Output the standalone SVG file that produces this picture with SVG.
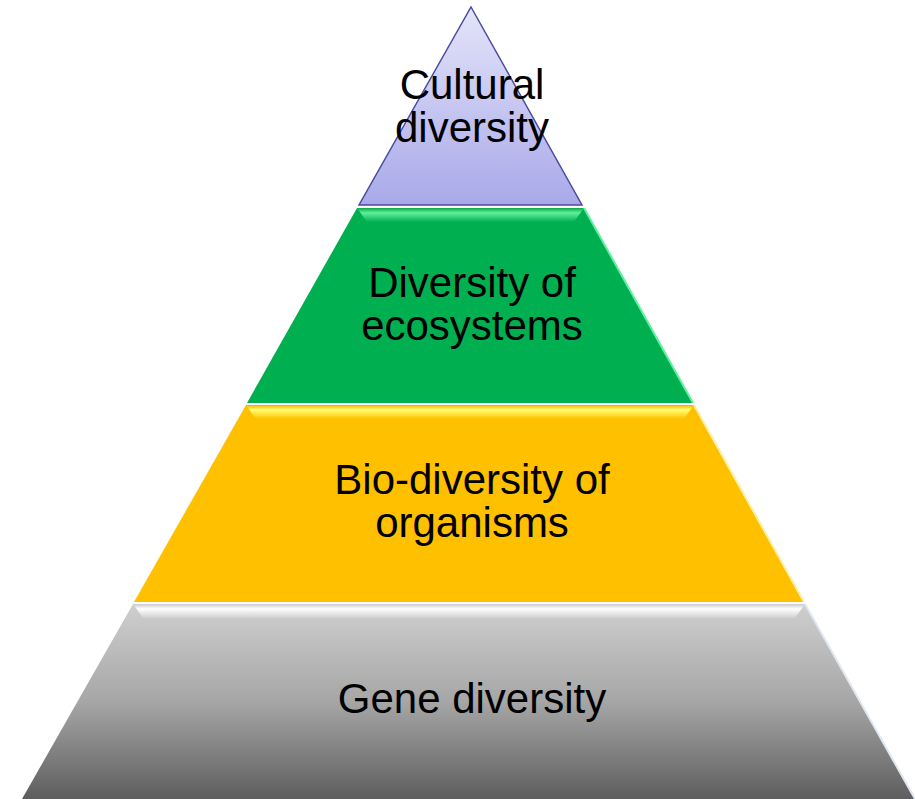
<svg xmlns="http://www.w3.org/2000/svg" width="915" height="799" viewBox="0 0 915 799">
<defs>
<linearGradient id="gPurple" x1="0" y1="0" x2="0" y2="1">
<stop offset="0" stop-color="#e4e4fa"/>
<stop offset="1" stop-color="#a9a9e9"/>
</linearGradient>
<linearGradient id="gGray" x1="0" y1="0" x2="0" y2="1">
<stop offset="0" stop-color="#cfcfcf"/>
<stop offset="0.5" stop-color="#a6a6a6"/>
<stop offset="1" stop-color="#5e5e5e"/>
</linearGradient>
<linearGradient id="hGreen" x1="0" y1="0" x2="0" y2="1">
<stop offset="0" stop-color="#0aa84a"/>
<stop offset="0.35" stop-color="#5ff09a"/>
<stop offset="1" stop-color="#00b050"/>
</linearGradient>
<linearGradient id="hYellow" x1="0" y1="0" x2="0" y2="1">
<stop offset="0" stop-color="#f0b000"/>
<stop offset="0.35" stop-color="#ffff70"/>
<stop offset="1" stop-color="#ffc000"/>
</linearGradient>
<linearGradient id="hGray" x1="0" y1="0" x2="0" y2="1">
<stop offset="0" stop-color="#c8c8c8"/>
<stop offset="0.35" stop-color="#ffffff"/>
<stop offset="1" stop-color="#cfcfcf"/>
</linearGradient>
</defs>
<style>
text { font-family: "Liberation Sans", Arial, sans-serif; font-size: 42px; fill: #000; text-anchor: middle; }
</style>
<g id="layer-gene">
<polygon points="133,604 805,604 915,799 22,799" fill="url(#gGray)"/>
<polygon points="133,604 805,604 795,618 143,618" fill="url(#hGray)"/>
<line x1="805" y1="604" x2="915" y2="799" stroke="#dfe8f0" stroke-width="2"/>
<text x="472" y="713">Gene diversity</text>
</g>
<g id="layer-organisms">
<polygon points="246,405 694,405 804,602 134,602" fill="#ffc000"/>
<polygon points="246,405 694,405 684,419 256,419" fill="url(#hYellow)"/>
<line x1="694" y1="405" x2="804" y2="602" stroke="#fff0a0" stroke-width="2"/>
<text x="472" y="494">Bio-diversity of</text>
<text x="472" y="537">organisms</text>
</g>
<g id="layer-ecosystems">
<polygon points="357,208 584,208 693,403 247,403" fill="#00b050"/>
<polygon points="357,208 584,208 574,222 367,222" fill="url(#hGreen)"/>
<line x1="584" y1="208" x2="693" y2="403" stroke="#60f0a0" stroke-width="2"/>
<text x="472" y="297">Diversity of</text>
<text x="472" y="340">ecosystems</text>
</g>
<g id="layer-cultural">
<polygon points="471,7 582,205 359,205" fill="url(#gPurple)" stroke="#4a4aa0" stroke-width="1.5"/>
<text x="472" y="99">Cultural</text>
<text x="472" y="142">diversity</text>
</g>
<g id="connectors"/>
</svg>
